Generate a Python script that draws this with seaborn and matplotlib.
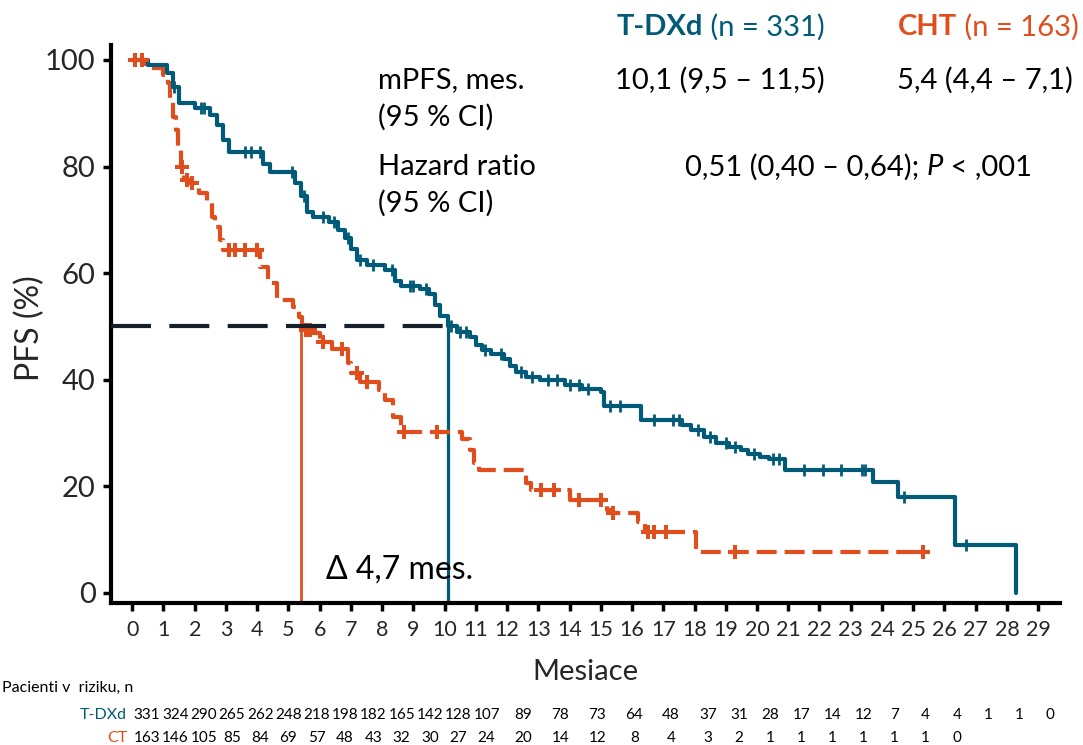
import numpy as np
import pandas as pd
import matplotlib
matplotlib.use("Agg")
import matplotlib.pyplot as plt
import seaborn as sns

# ---------------- data ----------------
months = list(range(30))
yticks = [0, 20, 40, 60, 80, 100]

# T-DXd Kaplan-Meier steps (time in months, PFS % after the step)
tdxd_t = [0, 0.5, 1.1, 1.3, 1.5, 2.0, 2.5, 2.7, 2.9, 3.1, 4.2, 4.4, 5.2, 5.4, 5.6, 5.8,
          6.3, 6.6, 6.8, 7.0, 7.2, 7.5, 8.1, 8.4, 8.6, 9.2, 9.5, 9.7, 9.85, 10.1, 10.4,
          10.8, 11.0, 11.2, 11.5, 11.9, 12.1, 12.3, 12.6, 13.05, 13.85, 14.4, 15.0, 15.1,
          16.3, 17.6, 17.9, 18.3, 18.7, 19.1, 19.5, 19.7, 20.1, 20.4, 20.9, 23.7, 24.5,
          26.35, 28.3]
tdxd_s = [100, 99, 97.5, 95, 92, 91, 89.7, 87.8, 85, 82.7, 80.5, 79, 77, 74.5, 71.5, 70.5,
          69.5, 68, 66.5, 64.5, 62.5, 61.5, 60.5, 58.5, 57.5, 57, 56, 54, 52, 50, 49,
          48, 46.5, 45.5, 44.8, 43.8, 42.5, 41.5, 40.5, 40, 39, 38.3, 37.6, 35,
          32.5, 31.5, 30.5, 29.3, 28.1, 27.4, 26.8, 26.1, 25.5, 25.1, 23.1, 20.8, 18,
          9, 0]
tdxd_cens = [1.35, 2.2, 2.3, 3.6, 3.8, 4.1, 5.1, 5.5, 6.1, 6.45, 6.9, 7.3, 7.7, 8.3, 8.9,
             9.0, 9.4, 10.2, 10.5, 10.7, 11.3, 11.8, 12.45, 12.8, 13.3, 13.6, 14.0, 14.3,
             14.6, 15.3, 15.6, 16.7, 17.3, 17.5, 18.1, 18.5, 19.0, 19.3, 19.9, 20.5, 20.7,
             21.5, 22.1, 22.7, 23.35, 23.45, 24.7, 26.7]

# CHT Kaplan-Meier steps
cht_t = [0, 0.45, 1.0, 1.15, 1.2, 1.3, 1.4, 1.45, 1.55, 1.65, 1.85, 2.15, 2.4, 2.55, 2.65,
         2.8, 2.9, 4.1, 4.35, 4.65, 5.15, 5.35, 5.45, 5.8, 6.0, 6.4, 6.9, 7.0, 7.3, 7.9,
         8.1, 8.35, 8.6, 10.55, 10.8, 10.95, 11.1, 12.6, 12.75, 14.0, 15.2, 15.35, 16.2,
         16.4, 18.05]
cht_s = [100, 98.5, 97.2, 95.7, 92.9, 89.3, 86.9, 83.7, 80, 77.5, 76.9, 75, 73.2, 70.5, 68.7,
         66.2, 64.4, 61.2, 58.2, 55, 53.7, 51.8, 49.3, 48.8, 47.1, 45.8, 43.2, 41.3, 39.6, 38.1,
         36.2, 33, 30.2, 28.8, 26.8, 24.4, 23.1, 20.6, 19.3, 17.4, 15.6, 15, 13.3,
         11.4, 7.7]
cht_end = 25.3
cht_cens = [0.1, 0.3, 1.6, 1.75, 1.9, 3.1, 3.3, 3.6, 4.0, 5.55, 5.7, 6.1, 6.7, 7.2, 7.5,
            8.7, 9.75, 13.1, 13.5, 14.3, 15.0, 15.4, 16.5, 16.7, 17.1, 19.3, 25.3]

median_tdxd = 10.1
median_cht = 5.4

risk_tdxd = [331, 324, 290, 265, 262, 248, 218, 198, 182, 165, 142, 128, 107, 89, 78, 73,
             64, 48, 37, 31, 28, 17, 14, 12, 7, 4, 4, 1, 1, 0]
risk_cht = [163, 146, 105, 85, 84, 69, 57, 48, 43, 32, 30, 27, 24, 20, 14, 12, 8, 4, 3, 2,
            1, 1, 1, 1, 1, 1, 0]

BLUE = "#005A78"
ORANGE = "#E04E1E"
DARK = "#15202A"

# ---------------- style ----------------
sns.set_theme(style="white")
plt.rcParams["font.family"] = ["Lato", "DejaVu Sans"]
plt.rcParams["text.color"] = "black"

W, H = 1083, 745
fig = plt.figure(figsize=(W / 100, H / 100), dpi=100)
ax_l, ax_r, ax_b, ax_t = 111, 1060, 603, 45
ax = fig.add_axes([ax_l / W, 1 - ax_b / H, (ax_r - ax_l) / W, (ax_b - ax_t) / H])

x0, x1 = -0.68, 29.7
y0, y1 = -1.9, 102.8
ax.set_xlim(x0, x1)
ax.set_ylim(y0, y1)


def step_at(times, surv, t):
    idx = np.searchsorted(np.asarray(times), t, side="right") - 1
    return np.asarray(surv)[idx]


# curves
df_b = pd.DataFrame({"t": tdxd_t, "s": tdxd_s})
sns.lineplot(data=df_b, x="t", y="s", drawstyle="steps-post", color=BLUE, lw=3.0,
             estimator=None, sort=False, ax=ax, zorder=4)
df_o = pd.DataFrame({"t": cht_t + [cht_end], "s": cht_s + [cht_s[-1]]})
sns.lineplot(data=df_o, x="t", y="s", drawstyle="steps-post", color=ORANGE, lw=3.0,
             estimator=None, sort=False, ax=ax, zorder=3, linestyle=(0, (4.8, 1.9)))

# censor marks
ax.plot(tdxd_cens, step_at(tdxd_t, tdxd_s, tdxd_cens), ls="none", marker="|",
        ms=9, mew=2.0, color=BLUE, zorder=5)
ax.plot(cht_cens, step_at(cht_t, cht_s, cht_cens), ls="none", marker="P",
        ms=9.5, mew=0, color=ORANGE, zorder=5)

# median lines
ax.plot([x0, median_tdxd], [50, 50], color=DARK, lw=3.0, ls=(0, (9.6, 4.4)), zorder=6)
ax.plot([median_cht, median_cht], [y0, 50], color=ORANGE, lw=2.0, zorder=2)
ax.plot([median_tdxd, median_tdxd], [y0, 50], color=BLUE, lw=2.3, zorder=2)

# axes styling
ax.set_xticks(months)
ax.set_yticks(yticks)
ax.set_xticklabels([str(m) for m in months])
ax.set_yticklabels([str(v) for v in yticks])
for side in ["top", "right"]:
    ax.spines[side].set_visible(False)
for side in ["left", "bottom"]:
    ax.spines[side].set_color("black")
    ax.spines[side].set_linewidth(3.0)
ax.tick_params(axis="both", direction="out", length=6, width=2.5, color="black",
               bottom=True, left=True)
ax.tick_params(axis="x", labelsize=15.5, pad=6)
ax.tick_params(axis="y", labelsize=21, pad=5)
ax.set_xlabel("Mesiace", fontsize=21)
ax.xaxis.set_label_coords((585 - ax_l) / (ax_r - ax_l), (ax_b - 672) / (ax_b - ax_t))
ax.xaxis.label.set_va("center")
ax.set_ylabel("PFS (%)", fontsize=23)
ax.yaxis.set_label_coords((30 - ax_l) / (ax_r - ax_l), (ax_b - 328) / (ax_b - ax_t))
ax.yaxis.label.set_va("center")
ax.grid(False)


def ftext(x, y, s, **kw):
    return fig.text(x / W, 1 - y / H, s, **kw)


def chain(x, y, parts, size):
    """Write pieces one after another starting at pixel x."""
    fig.canvas.draw()
    cur = x
    for s, kw in parts:
        t = ftext(cur, y, s, fontsize=size, va="center", ha="left", **kw)
        fig.canvas.draw()
        cur = t.get_window_extent().x1
    return cur


FS = 21
chain(617, 27, [("T-DXd", dict(color=BLUE, fontweight="bold")),
                (" (n = 331)", dict(color=BLUE))], FS)
chain(898, 27, [("CHT", dict(color=ORANGE, fontweight="bold")),
                (" (n = 163)", dict(color=ORANGE))], FS)
ftext(378, 80, "mPFS, mes.", fontsize=FS, va="center")
ftext(378, 117, "(95 % CI)", fontsize=FS, va="center")
ftext(378, 167, "Hazard ratio", fontsize=FS, va="center")
ftext(378, 203, "(95 % CI)", fontsize=FS, va="center")
ftext(615, 80, "10,1 (9,5 \u2013 11,5)", fontsize=FS, va="center")
ftext(897, 80, "5,4 (4,4 \u2013 7,1)", fontsize=FS, va="center")
chain(685, 167, [("0,51 (0,40 \u2013 0,64); ", {}),
                 ("P", dict(style="italic")),
                 (" < ,001", {})], FS)
ftext(326, 570, "\u0394 4,7 mes.", fontsize=23, va="center")

# risk table
ftext(2, 688, "Pacienti v  riziku, n", fontsize=11.5, ha="left", va="center")
ftext(127, 715, "T-DXd", fontsize=11.5, ha="right", va="center", color=BLUE)
ftext(127, 738, "CT", fontsize=11.5, ha="right", va="center", color=ORANGE)


def col_x(i):
    if i <= 12:
        return 147 + 28.3 * i
    if i <= 18:
        return 147 + 28.3 * 12 + (708 - (147 + 28.3 * 12)) / 6 * (i - 12)
    return 708 + 31.1 * (i - 18)


for i, v in enumerate(risk_tdxd):
    ftext(col_x(i), 715, str(v), fontsize=11, ha="center", va="center")
for i, v in enumerate(risk_cht):
    ftext(col_x(i), 738, str(v), fontsize=11, ha="center", va="center")

fig.savefig("out.png", dpi=100)
